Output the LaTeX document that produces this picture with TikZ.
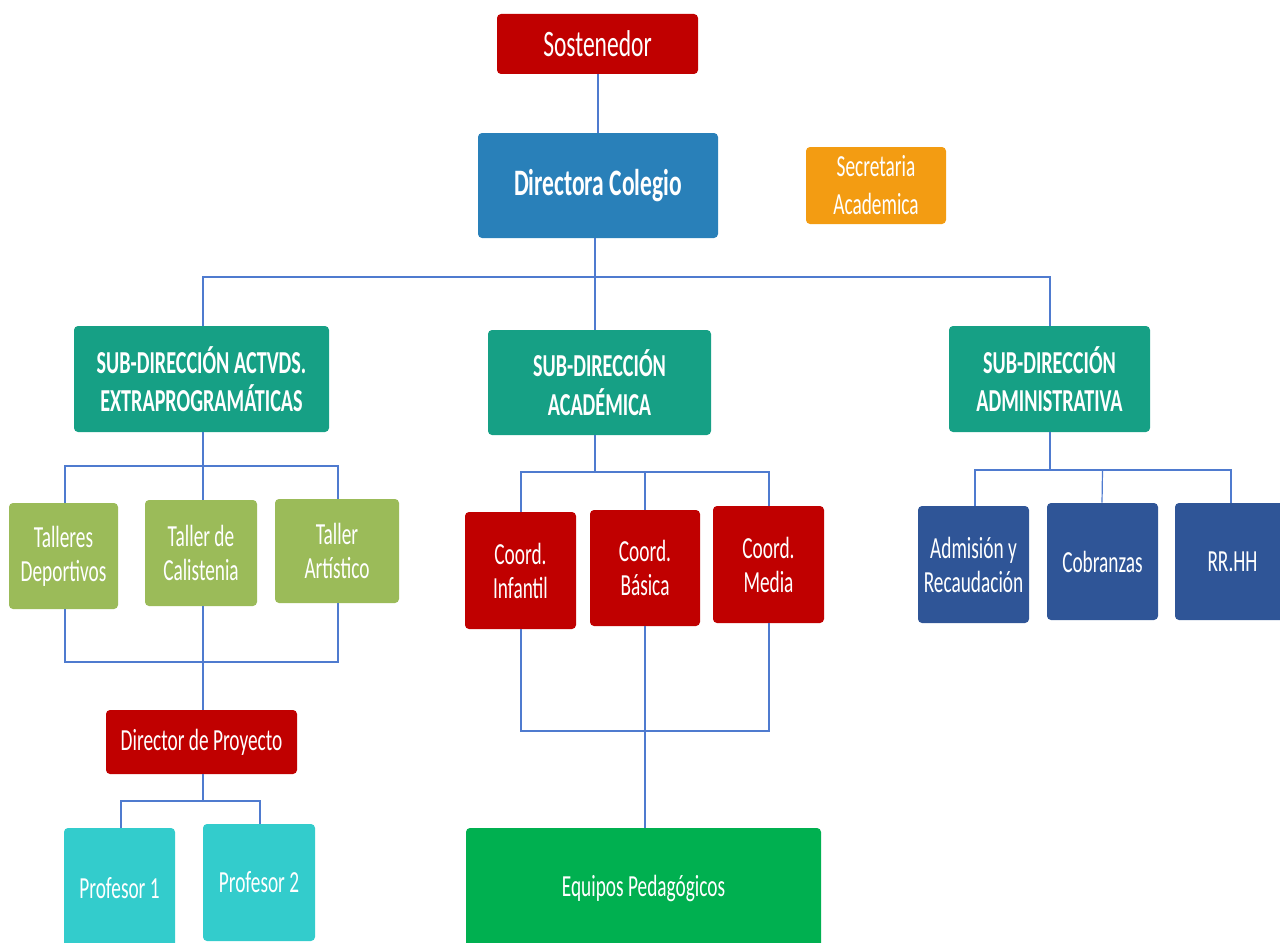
\documentclass[tikz,border=0pt]{standalone}
\usepackage{fontspec}
\setmainfont{Carlito}[FakeStretch=0.63]
\definecolor{cred}{HTML}{C00000}
\definecolor{cblue}{HTML}{2980B9}
\definecolor{corange}{HTML}{F39C12}
\definecolor{cteal}{HTML}{16A085}
\definecolor{colive}{HTML}{9BBB59}
\definecolor{cnavy}{HTML}{2F5597}
\definecolor{ccyan}{HTML}{33CCCC}
\definecolor{cgreen}{HTML}{00B050}
\definecolor{cline}{HTML}{4F7BCF}
\tikzset{
  box/.style={inner sep=0pt, rounded corners=3pt, text=white, align=center,
    font=\fontsize{23}{25.5}\selectfont},
  sz/.style 2 args={minimum width=#1*0.75pt, minimum height=#2*0.75pt},
  hdr/.style={box, fill=cteal, font=\fontsize{24}{29}\selectfont\bfseries},
  conn/.style={draw=cline, line width=0.9pt}
}
\begin{document}
\begin{tikzpicture}[x=0.75pt,y=-0.75pt]
\useasboundingbox (0,0) rectangle (1280,942);
\node[box, fill=cred, sz={201}{60}, font=\fontsize{28}{31}\selectfont] (sost) at (597.5,44) {Sostenedor};
\node[box, fill=cblue, sz={240}{105}, font=\fontsize{28}{31}\selectfont\bfseries] (dir) at (598,185.5) {Directora Colegio};
\node[box, fill=corange, sz={140}{77}, font=\fontsize{23}{28.5}\selectfont] (sec) at (876,185.5) {Secretaria\\Academica};
\node[hdr, sz={255}{106}] (sx) at (201.5,379) {SUB-DIRECCIÓN ACTVDS.\\EXTRAPROGRAMÁTICAS};
\node[hdr, sz={223}{105}] (sa) at (599.5,382.5) {SUB-DIRECCIÓN\\ACADÉMICA};
\node[hdr, sz={201}{106}] (sd) at (1049.5,379) {SUB-DIRECCIÓN\\ADMINISTRATIVA};
\node[box, fill=colive, sz={109}{106}] (t1) at (63.5,556) {Talleres\\Deportivos};
\node[box, fill=colive, sz={112}{106}] (t2) at (201,553) {Taller de\\Calistenia};
\node[box, fill=colive, sz={124}{104}] (t3) at (337,551) {Taller\\Artístico};
\node[box, fill=cred, sz={111}{117}] (c1) at (520.5,570.5) {Coord.\\Infantil};
\node[box, fill=cred, sz={110}{116}] (c2) at (645,568) {Coord.\\Básica};
\node[box, fill=cred, sz={111}{117}] (c3) at (768.5,564.5) {Coord.\\Media};
\node[box, fill=cnavy, sz={111}{117}] (a1) at (973.5,564.5) {Admisión y\\Recaudación};
\node[box, fill=cnavy, sz={111}{117}] (a2) at (1102.5,561.5) {Cobranzas};
\node[box, fill=cnavy, sz={115}{117}] (a3) at (1232.5,561.5) {RR.HH};
\node[box, fill=cred, sz={191}{64}] (dp) at (201.5,742) {Director de Proyecto};
\node[box, fill=ccyan, sz={111}{120}] (p1) at (119.5,888) {Profesor 1};
\node[box, fill=ccyan, sz={112}{117}] (p2) at (259,882.5) {Profesor 2};
\node[box, fill=cgreen, sz={355}{120}] (eq) at (643.5,888) {Equipos Pedagógicos};
% bus coordinates
\coordinate (b0) at (595,277);
\coordinate (bx) at (203,466);
\coordinate (bxb) at (203,662);
\coordinate (bdp) at (203,801);
\coordinate (ba) at (595,472);
\coordinate (bab) at (645,731);
\coordinate (bd) at (1050,470);
% connectors
\draw[conn] (sost.south -| 598,0) -- (dir.north -| 598,0);
\draw[conn] (dir.south -| b0) -- (b0);
\draw[conn] (sx.north -| 203,0) |- (b0) -| (sd.north -| 1050,0);
\draw[conn] (b0) -- (sa.north -| b0);
\draw[conn] (sx.south -| bx) -- (bx);
\draw[conn] (t1.north -| 65,0) |- (bx) -| (t3.north -| 338,0);
\draw[conn] (bx) -- (t2.north -| bx);
\draw[conn] (t1.south -| 65,0) |- (bxb) -| (t3.south -| 338,0);
\draw[conn] (t2.south -| bxb) -- (bxb) -- (dp.north -| bxb);
\draw[conn] (dp.south -| bdp) -- (bdp);
\draw[conn] (p1.north -| 121,0) |- (bdp) -| (p2.north -| 260,0);
\draw[conn] (sa.south -| ba) -- (ba);
\draw[conn] (c1.north -| 521,0) |- (ba) -| (c3.north -| 769,0);
\draw[conn] (c2.north -| 645,0) -- (c2.north |- ba);
\draw[conn] (c1.south -| 521,0) |- (bab) -| (c3.south -| 769,0);
\draw[conn] (c2.south -| bab) -- (bab) -- (eq.north -| bab);
\draw[conn] (sd.south -| bd) -- (bd);
\draw[conn] (a1.north -| 975,0) |- (bd) -| (a3.north -| 1231,0);
\draw[conn] (a2.north -| 1102,0) -- (a2.north |- bd);
\end{tikzpicture}
\end{document}
